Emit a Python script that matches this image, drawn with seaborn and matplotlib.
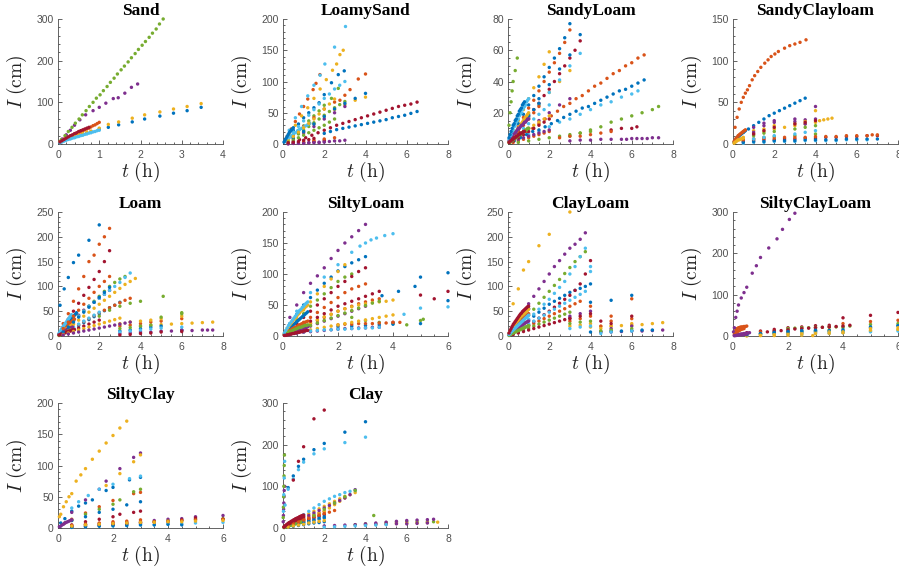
import matplotlib
matplotlib.use("Agg")
import matplotlib.pyplot as plt
import numpy as np
import pandas as pd
import seaborn as sns
from matplotlib.ticker import MultipleLocator, AutoMinorLocator

# ---------------------------------------------------------------------------
# Cumulative infiltration I (cm) against elapsed time t (h), one list of runs
# per soil texture class.  Each run is (times, cumulative depths).
# ---------------------------------------------------------------------------

# shared sampling schedules (h)
Q = [0.25, 0.5, 0.75, 1.0, 1.25, 1.5, 1.75, 2.0, 2.25, 2.5, 2.75, 3.0, 3.25, 3.5, 3.75, 4.0]
H = [0.5, 1.0, 1.5, 2.0, 2.5, 3.0, 3.5, 4.0, 4.5, 5.0, 5.5, 6.0, 6.5, 7.0, 7.5]
F = [0.05, 0.1, 0.15, 0.2, 0.25, 0.3, 0.35, 0.4, 0.45, 0.5,
     0.55, 0.6, 0.65, 0.7, 0.75, 0.8, 0.85, 0.9, 0.95, 1.0]
LATE = [4.0, 4.5, 5.0, 5.5, 6.0, 6.5, 7.0, 7.5]
COLS = [3.0, 3.5, 4.0, 4.5, 5.0, 6.0]

# --- Sand ------------------------------------------------------------------
SAND_T_LONG = [0.05, 0.1, 0.15, 0.2, 0.3, 0.4, 0.5, 0.6, 0.7, 0.8, 1.0,
               1.22, 1.47, 1.8, 2.1, 2.47, 2.8, 3.13, 3.47]
SAND_T_STEEP = [0.08, 0.17, 0.25, 0.34, 0.42, 0.51, 0.59, 0.68, 0.76, 0.85,
                0.93, 1.02, 1.1, 1.19, 1.27, 1.36, 1.44, 1.53, 1.61, 1.7,
                1.78, 1.87, 1.95, 2.04, 2.12, 2.21, 2.29, 2.38, 2.46, 2.55]
SAND_T_MID = [0.1, 0.2, 0.3, 0.4, 0.53, 0.67, 0.85, 1.0, 1.16, 1.34, 1.46, 1.62, 1.78, 1.93]
SAND_RUNS = [
    (SAND_T_LONG, [4, 7, 9, 11, 14, 17, 20, 23, 26, 29, 36, 40, 46, 53, 60, 67, 74, 80, 88]),
    (F, [6, 9, 12, 14, 16, 18, 21, 23, 25, 27, 29, 31, 34, 36, 38, 41, 44, 46, 49, 52]),
    (SAND_T_LONG, [5, 8, 10, 12, 15, 19, 22, 25, 28, 31, 38, 47, 53, 62, 70, 77, 84, 90, 97]),
    (SAND_T_MID, [12, 22, 33, 45, 58, 70, 80, 88, 98, 109, 111, 122, 136, 144]),
    (SAND_T_STEEP, [10, 20, 30, 40, 50, 60, 70, 80, 90, 100, 110, 118, 128, 138, 148,
                    158, 168, 178, 187, 197, 207, 217, 227, 237, 246, 256, 266, 276, 288, 300]),
    (F, [3, 5, 7, 9, 11, 12, 14, 15, 17, 18, 20, 21, 23, 24, 26, 27, 29, 30, 32, 33]),
    (F, [5, 8, 11, 14, 17, 20, 22, 25, 27, 30, 32, 34, 36, 38, 40]),
]

# --- Loamy sand ------------------------------------------------------------
LS_T_RED = [0.5, 0.8, 1.1, 1.4, 1.7, 2.0, 2.3, 2.6, 2.9, 3.2, 3.5, 3.8, 4.1,
            4.4, 4.7, 5.0, 5.3, 5.6, 5.9, 6.2, 6.5]
LS_T_BLUE = [2.0, 2.3, 2.6, 2.9, 3.2, 3.5, 3.8, 4.1, 4.4, 4.7, 5.0, 5.3, 5.6, 5.9, 6.2, 6.5]
LS_T_THICK = [0.1, 0.2, 0.3, 0.4, 0.5, 0.6, 0.7, 0.8, 0.9, 1.0, 1.1, 1.2, 1.3]
LS_RUNS = [
    ([0.25, 0.5, 0.75, 1.0, 1.25, 1.5, 1.75, 2.0, 2.35, 2.68, 2.97], [12, 22, 32, 42, 50, 58, 66, 79, 98, 111, 117]),
    ([0.2, 0.4, 0.6, 0.8, 1.0, 1.2, 1.46, 1.6, 1.79], [12, 24, 36, 48, 60, 72, 87, 97, 111]),
    ([0.3, 0.6, 0.9, 1.2, 1.5, 1.8, 2.1, 2.4, 2.6, 2.76, 2.92], [15, 30, 45, 58, 73, 88, 103, 118, 128, 143, 150]),
    (Q[:12], [1, 1, 2, 2, 2, 3, 3, 4, 4, 5, 5, 6]),
    ([0.25, 0.5, 0.75, 1.0, 1.25, 1.5, 1.75, 2.0, 2.35, 2.68], [8, 15, 22, 29, 37, 45, 53, 62, 73, 89]),
    ([0.3, 0.6, 0.9, 1.2, 1.5, 1.8, 2.03, 2.5, 3.03], [22, 42, 60, 77, 94, 110, 128, 155, 188]),
    (LS_T_RED, [4, 7, 10, 14, 18, 22, 26, 30, 33, 36, 39, 42, 45, 48, 51, 54, 57, 60, 62, 64, 67]),
    (LS_T_BLUE, [17, 20, 23, 25, 27, 29, 31, 33, 35, 37, 39, 42, 44, 46, 49, 52]),
    ([0.5, 1.0, 1.5, 2.0, 2.5, 2.76, 3.0, 3.25, 3.65, 4.0], [15, 28, 42, 56, 67, 70, 78, 87, 104, 112]),
    (H[:8], [10, 20, 32, 44, 55, 63, 70, 75]),
    (H[:6], [8, 18, 28, 40, 50, 60]),
    (Q[:12], [5, 10, 16, 22, 28, 34, 40, 46, 52, 58, 63, 68]),
    (LS_T_THICK, [4, 7, 10, 13, 16, 18, 21, 23, 25, 27, 29, 31, 33]),
    (H[:4], [1, 2, 4, 6]),
    (H[:8], [10, 20, 32, 44, 56, 65, 73, 81]),
    (H[:5], [2, 4, 6, 8, 10]),
    (Q[:10], [6, 12, 19, 26, 33, 40, 48, 56, 64, 72]),
    (Q[:8], [0, 1, 1, 1, 2, 2, 2, 3]),
    (Q[:10], [3, 6, 10, 14, 18, 22, 26, 30, 35, 40]),
    (Q[:12], [10, 19, 28, 37, 46, 55, 64, 73, 80, 88, 94, 100]),
    (Q[:6], [2, 3, 4, 6, 7, 9]),
    (F[:10], [3, 6, 9, 12, 15, 18, 20, 22, 24, 26]),
]

# --- Sandy loam ------------------------------------------------------------
SL_T_LONG = [0.3, 0.6, 0.9, 1.2, 1.5, 1.8, 2.1, 2.4, 2.7, 3.0, 3.3, 3.6, 3.9,
             4.2, 4.5, 4.8, 5.1, 5.4, 5.7, 6.0, 6.3, 6.6]
SL_RUNS = [
    (Q[:12], [7, 13, 19, 25, 31, 37, 43, 49, 55, 61, 68, 77]),
    (SL_T_LONG, [3, 5, 8, 10, 13, 16, 18, 21, 24, 26, 29, 31, 34, 37, 39, 42, 45, 47, 50, 52, 55, 57]),
    (Q[:8], [8, 15, 22, 29, 36, 43, 51, 59]),
    ([3.0, 3.5, 4.0, 4.5, 5.0, 5.5, 5.75, 6.0, 6.25, 6.5, 6.75, 7.0, 7.3],
     [2, 2.5, 2.5, 3, 3, 3, 3, 3.5, 3.5, 3.5, 3.5, 4, 4]),
    ([3.0, 3.5, 4.0, 4.5, 5.0, 5.5, 6.0, 6.5, 7.0, 7.3], [5, 7, 9, 11, 14, 16, 18, 20, 22, 24]),
    ([1.0, 1.5, 2.0, 2.5, 3.0, 3.5, 4.0, 4.5, 5.0, 5.5, 6.0, 6.3], [6, 8, 11, 14, 16, 19, 22, 25, 27, 30, 32, 34]),
    (Q[:14], [5, 9, 14, 18, 22, 26, 31, 35, 40, 45, 50, 55, 60, 66]),
    (SL_T_LONG, [2, 4, 6, 8, 9, 11, 13, 15, 17, 19, 21, 23, 24, 26, 28, 30, 32, 34, 35, 37, 39, 41]),
    (Q[:12], [5, 11, 17, 23, 28, 34, 40, 46, 52, 58, 65, 73]),
    (H[:6], [9, 17, 25, 33, 40, 47]),
    (H[:6], [5, 10, 15, 20, 25, 29]),
    ([0.05, 0.1, 0.15, 0.2, 0.25, 0.35, 0.45], [12, 20, 27, 34, 40, 47, 55]),
    (H[:7], [9, 17, 25, 33, 41, 50, 58]),
    ([5.0, 5.5, 6.0, 6.25], [9, 10, 10, 11]),
    (H[:7], [9, 19, 29, 38, 48, 57, 70]),
    (Q[:8], [1, 2, 3, 4, 5, 6, 7, 8]),
    (Q[:8], [3, 5, 8, 10, 12, 14, 16, 18]),
    (Q[:8], [2, 3, 4, 5, 6, 7, 8, 9]),
    (H[:8], [1, 2, 3, 4, 5, 6, 7, 8]),
    (Q[:8], [4, 7, 10, 13, 16, 19, 22, 25]),
    (Q[:8], [2, 4, 6, 8, 10, 12, 14, 16]),
    (Q[:6], [6, 10, 14, 18, 22, 26]),
    (Q[:6], [4, 8, 12, 16, 20, 24]),
    (F, [1, 2, 3, 4, 5, 6, 7, 8, 9, 10, 11, 12, 13, 14, 15, 16, 17, 18, 19, 20]),
    (F, [2, 3, 4, 5, 6, 7, 7, 8, 9, 10, 10, 11, 12, 12, 13, 14, 14, 15, 16, 16]),
    (F, [1, 1, 2, 2, 3, 3, 4, 4, 5, 5, 6, 6, 7, 7, 8, 8, 9, 9, 10, 10]),
    (F, [3, 5, 6, 8, 9, 11, 12, 14, 15, 16, 18, 19, 20, 22, 23, 24, 25, 27, 28, 29]),
    (F[:16], [1, 2, 2, 3, 3, 4, 4, 5, 5, 6, 6, 7, 7, 7, 8, 8]),
    (F[:16], [4, 6, 8, 10, 12, 13, 15, 16, 18, 19, 21, 22, 23, 25, 26, 27]),
    ([2.5, 3.0, 3.5, 4.0, 4.5, 5.0], [4, 5, 5, 6, 7, 8]),
]

# --- Sandy clay loam -------------------------------------------------------
SCL_T_CURVE = [0.1, 0.2, 0.3, 0.4, 0.5, 0.6, 0.7, 0.8, 0.93, 1.05, 1.2, 1.35,
               1.54, 1.7, 1.85, 2.03, 2.2, 2.5, 2.75, 3.0, 3.25, 3.54]
SCL_RUNS = [
    ([0.1, 0.25, 0.5, 0.75, 1.0, 1.25, 1.5, 1.75, 2.0, 2.25, 2.5, 2.75, 3.0, 3.25, 3.5],
     [4, 8, 14, 18, 22, 26, 30, 34, 37, 40, 43, 46, 49, 52, 55]),
    (SCL_T_CURVE, [20, 32, 42, 50, 56, 61, 65, 70, 77, 82, 87, 92, 97, 101, 105, 108, 111, 115, 118, 120, 122, 125]),
    ([0.5, 1.0, 1.5, 2.0, 2.5, 3.0, 3.5, 4.0, 4.2, 4.4, 4.6, 4.8], [8, 12, 15, 18, 20, 22, 24, 26, 28, 29, 30, 31]),
    ([1.0, 1.5, 2.0, 3.0, 3.5, 4.0], [20, 25, 28, 30, 29, 45]),
    ([0.5, 1.0, 1.5, 2.0, 3.0, 4.0], [4, 6, 8, 9, 10, 12]),
    (H[:13], [1, 2, 2, 3, 3, 3, 4, 4, 4, 4, 5, 5, 5]),
    (H[:14], [3, 4, 5, 5, 6, 6, 7, 7, 8, 8, 9, 9, 10, 10]),
    (H[:14], [2, 3, 3, 4, 4, 4, 5, 5, 5, 5, 6, 6, 6, 6]),
    ([0.5, 1.0, 1.5, 2.0, 2.5, 3.0, 3.5, 4.0, 4.5, 5.0, 5.5, 6.0, 6.5, 6.75, 7.0],
     [5, 6, 7, 7, 8, 8, 8, 9, 9, 9, 10, 10, 10, 11, 11]),
    ([1.0, 1.5, 2.0, 3.0, 3.5, 4.0], [16, 18, 22, 25, 27, 40]),
    ([1.0, 1.5, 2.0, 3.0, 3.5, 4.0], [14, 22, 26, 27, 24, 30]),
    ([1.0, 1.5, 2.0, 3.0, 3.5, 4.0], [10, 13, 15, 18, 20, 22]),
    ([1.0, 1.5, 2.0, 3.0, 3.5, 4.0], [6, 8, 10, 12, 14, 16]),
    ([1.0, 1.5, 2.0, 3.0, 3.5, 4.0], [12, 16, 20, 24, 26, 28]),
    (F[:12], [2, 4, 6, 8, 9, 10, 11, 12, 13, 14, 15, 16]),
    (F[:12], [3, 5, 7, 8, 10, 11, 12, 13, 14, 15, 16, 17]),
    (F[:10], [1, 2, 3, 4, 5, 5, 6, 6, 7, 7]),
]

# --- Loam ------------------------------------------------------------------
LOAM_RUNS = [
    ([0.1, 0.3, 0.5, 0.75, 1.0, 1.5, 2.0], [62, 95, 118, 148, 163, 193, 224]),
    (Q[:10], [25, 45, 70, 95, 120, 150, 163, 185, 200, 217]),
    (Q[:15], [8, 16, 24, 32, 40, 48, 56, 64, 72, 80, 88, 96, 104, 110, 116]),
    (Q[:10], [12, 22, 32, 42, 52, 60, 68, 76, 84, 92]),
    (Q[:13], [10, 20, 30, 40, 50, 60, 70, 80, 90, 100, 108, 115, 120]),
    (Q[:14], [10, 20, 30, 40, 50, 60, 68, 76, 84, 92, 100, 108, 118, 127]),
    (Q[:10], [18, 34, 50, 66, 82, 98, 114, 130, 150, 172]),
    (Q[:12], [5, 10, 15, 21, 27, 33, 39, 45, 51, 57, 62, 68]),
    (Q[:14], [6, 11, 17, 23, 29, 35, 41, 47, 52, 57, 62, 67, 72, 76]),
    (LATE, [20, 22, 23, 24, 25, 26, 27, 28]),
    ([5.5, 6.0, 6.5, 7.0, 7.25, 7.5], [10, 11, 11, 12, 12, 12]),
    ([2.0, 2.5, 3.0, 3.5, 4.0, 5.1, 6.0], [40, 52, 60, 66, 70, 80, 47]),
    (Q[:8], [6, 12, 18, 24, 30, 36, 42, 48]),
    (Q[:8], [4, 8, 12, 16, 20, 24, 28, 32]),
    (COLS, [10, 12, 15, 18, 20, 12]),
    (COLS, [20, 22, 25, 28, 30, 35]),
    (COLS, [25, 28, 30, 32, 35, 40]),
    (COLS, [5, 6, 8, 8, 10, 12]),
    (COLS, [15, 17, 20, 22, 38, 45]),
    (COLS, [8, 10, 12, 14, 16, 18]),
    (COLS, [2, 3, 5, 6, 8, 9]),
    (F[:18], [4, 7, 9, 12, 14, 17, 19, 22, 24, 27, 29, 32, 34, 37, 39, 42, 44, 47]),
    (F[:16], [3, 6, 8, 10, 12, 14, 16, 18, 20, 22, 24, 26, 28, 30, 32, 34]),
    (F[:15], [2, 4, 6, 8, 9, 11, 12, 14, 15, 17, 18, 20, 21, 23, 24]),
    (F[:14], [3, 5, 6, 8, 9, 10, 11, 12, 13, 14, 15, 16, 17, 18]),
    (F[:12], [1, 2, 3, 4, 5, 6, 7, 8, 9, 10, 11, 12]),
    (F[:13], [5, 9, 13, 16, 19, 22, 25, 28, 31, 34, 37, 40, 43]),
    (F[:16], [2, 3, 4, 5, 6, 6, 7, 8, 8, 9, 10, 10, 11, 12, 12, 13]),
    (Q[:10], [8, 18, 28, 38, 48, 58, 68, 78, 88, 98]),
    (Q[:10], [15, 28, 40, 52, 64, 76, 88, 100, 110, 120]),
    (Q[:12], [3, 6, 9, 12, 15, 18, 21, 24, 27, 30, 33, 36]),
    (Q[:14], [2, 4, 6, 8, 10, 12, 14, 16, 18, 20, 22, 24, 26, 28]),
]

# --- Silty loam ------------------------------------------------------------
SIL_RUNS = [
    (Q[:12], [20, 35, 50, 62, 74, 85, 95, 105, 112, 118, 123, 128]),
    (Q[:12], [8, 15, 22, 30, 38, 46, 54, 62, 70, 76, 80, 84]),
    (Q[:9], [15, 28, 42, 55, 68, 80, 92, 104, 115]),
    (Q[:12], [30, 50, 70, 85, 97, 110, 125, 138, 150, 160, 170, 180]),
    (Q[:10], [12, 24, 36, 48, 58, 68, 78, 88, 95, 100]),
    ([0.5, 1.0, 1.5, 2.0, 2.5, 2.8, 3.0, 3.2, 3.4, 3.7, 4.0], [40, 70, 95, 115, 135, 145, 150, 155, 158, 162, 165]),
    (Q[:12], [10, 20, 30, 40, 50, 60, 70, 80, 88, 96, 104, 110]),
    ([3.6, 4.2, 4.8, 5.0, 6.0], [65, 72, 80, 95, 102]),
    (Q[:14], [5, 10, 15, 20, 25, 30, 35, 40, 44, 48, 52, 55, 58, 60]),
    (Q[:16], [6, 11, 16, 21, 26, 31, 35, 40, 44, 47, 50, 52, 54, 55, 56, 58]),
    (Q[:12], [4, 8, 12, 16, 20, 24, 28, 32, 36, 40, 44, 48]),
    ([2.5, 3.0, 3.5, 4.0, 4.5, 5.0, 5.1], [30, 25, 22, 20, 18, 25, 27]),
    ([4.4, 5.0, 6.0], [35, 45, 47]),
    ([4.0, 5.0, 5.5, 6.0], [22, 66, 60, 72]),
    ([2.0, 2.5, 3.0, 3.5, 4.0, 5.0, 6.0], [15, 16, 17, 18, 19, 20, 57]),
    ([2.0, 2.25, 2.5, 2.75, 3.0, 3.25, 3.5, 3.75, 4.0, 4.25], [18, 19, 19, 20, 20, 20, 21, 21, 22, 22]),
    (Q[:16], [3, 6, 8, 10, 12, 14, 16, 18, 20, 22, 24, 26, 28, 30, 32, 34]),
    (Q[:14], [2, 4, 6, 7, 8, 9, 10, 11, 12, 12, 13, 13, 14, 14]),
    (Q[:14], [5, 9, 13, 17, 21, 25, 29, 33, 37, 41, 45, 49, 53, 56]),
    (Q[:14], [3, 5, 7, 8, 9, 10, 10, 11, 11, 12, 12, 13, 13, 14]),
    (Q[:14], [6, 12, 18, 24, 30, 36, 42, 48, 52, 56, 60, 64, 68, 72]),
    (F[:18], [3, 6, 9, 11, 13, 15, 17, 19, 21, 23, 25, 27, 29, 31, 33, 35, 37, 39]),
    (F[:18], [2, 4, 6, 7, 9, 10, 12, 13, 14, 15, 17, 18, 19, 20, 21, 22, 23, 24]),
    (F[:18], [4, 8, 12, 15, 18, 21, 24, 27, 30, 32, 35, 37, 40, 42, 44, 46, 48, 50]),
    (F[:18], [1, 2, 3, 4, 5, 6, 7, 8, 8, 9, 10, 11, 11, 12, 13, 13, 14, 15]),
    (F[:18], [2, 3, 5, 6, 7, 8, 9, 10, 11, 12, 13, 14, 14, 15, 16, 17, 17, 18]),
    (F[:18], [5, 9, 13, 17, 20, 23, 26, 29, 32, 35, 38, 41, 43, 46, 48, 51, 53, 55]),
    (F[:18], [1, 1, 2, 2, 3, 3, 4, 4, 5, 5, 6, 6, 7, 7, 8, 8, 9, 9]),
]

# --- Clay loam -------------------------------------------------------------
CL_RUNS = [
    (Q[:16], [8, 16, 24, 32, 40, 48, 56, 64, 70, 76, 82, 88, 92, 96, 100, 105]),
    (Q[:14], [5, 10, 15, 20, 25, 30, 35, 40, 45, 50, 55, 60, 65, 70]),
    ([0.25, 0.5, 0.75, 1.0, 1.5, 2.0, 3.0], [65, 95, 133, 150, 182, 205, 250]),
    (Q[:15], [20, 35, 50, 65, 80, 95, 110, 125, 140, 152, 165, 177, 185, 195, 208]),
    (Q[:15], [10, 20, 30, 42, 54, 66, 78, 90, 102, 114, 126, 138, 150, 160, 170]),
    (Q[:16], [8, 16, 24, 34, 44, 54, 64, 74, 86, 98, 110, 125, 140, 160, 177, 140]),
    (Q[:16], [5, 10, 15, 22, 29, 36, 43, 50, 58, 66, 74, 82, 92, 105, 125, 152]),
    ([4.0, 5.0, 6.0], [68, 72, 82]),
    ([4.0, 5.0, 6.0], [60, 40, 75]),
    (LATE, [18, 19, 20, 21, 22, 23, 25, 27]),
    ([5.0, 5.5, 6.0, 6.5, 7.0, 7.5], [8, 9, 10, 10, 11, 12]),
    (Q[:12], [4, 8, 12, 16, 20, 24, 28, 32, 36, 40, 44, 48]),
    (Q[:16], [6, 12, 18, 24, 30, 36, 42, 48, 54, 60, 66, 72, 78, 84, 90, 130]),
    (Q[:12], [3, 6, 9, 12, 15, 18, 21, 24, 27, 30, 33, 36]),
    ([4.0, 4.5, 5.0, 5.5, 6.0, 6.5, 7.0], [8, 9, 10, 10, 11, 12, 12]),
    (COLS, [30, 35, 40, 20, 30, 35]),
    (COLS, [20, 22, 25, 15, 20, 25]),
    (COLS, [40, 45, 50, 8, 15, 20]),
    (COLS, [25, 28, 30, 10, 12, 15]),
    (COLS, [15, 18, 20, 5, 8, 10]),
    (COLS, [35, 40, 45, 30, 25, 40]),
    (F, [4, 8, 11, 14, 17, 20, 23, 26, 29, 31, 34, 36, 39, 41, 44, 46, 48, 51, 53, 55]),
    (F, [3, 6, 9, 12, 14, 16, 19, 21, 23, 25, 27, 29, 31, 33, 35, 37, 39, 41, 43, 45]),
    (F, [5, 9, 13, 16, 19, 22, 25, 28, 30, 33, 35, 38, 40, 42, 44, 46, 48, 50, 52, 54]),
    (F, [2, 4, 6, 8, 10, 11, 13, 14, 16, 17, 19, 20, 21, 23, 24, 25, 27, 28, 29, 30]),
    (F, [1, 3, 4, 5, 6, 7, 8, 9, 10, 11, 12, 13, 14, 15, 16, 17, 18, 19, 20, 21]),
    (F, [3, 5, 8, 10, 12, 14, 16, 18, 20, 22, 24, 26, 28, 30, 32, 34, 36, 38, 40, 42]),
    (F, [6, 11, 15, 19, 23, 26, 29, 32, 35, 38, 41, 44, 46, 49, 51, 53, 55, 57, 59, 60]),
]

# --- Silty clay loam -------------------------------------------------------
SICL_T_FAST = [0.02, 0.05, 0.1, 0.15, 0.2, 0.3, 0.4, 0.5, 0.7, 0.85, 1.0, 1.3, 1.6, 1.8, 2.05, 2.25]
SICL_T_COL = [1.0, 1.5, 2.0, 2.5, 3.0, 3.5, 4.0, 5.0, 6.0]
SICL_RUNS = [
    ([0.5, 1.0, 1.5, 2.0, 2.5, 3.0, 3.5, 4.0, 5.0, 6.0], [2, 4, 5, 7, 8, 10, 11, 12, 20, 25]),
    (F[:10], [8, 14, 18, 20, 21, 22, 22, 23, 23, 24]),
    ([0.5, 1.0, 1.5, 2.0, 2.5, 2.9, 3.5, 4.0, 5.0, 6.0], [0, 1, 1, 2, 2, 1, 6, 8, 12, 15]),
    (SICL_T_FAST, [10, 20, 45, 60, 75, 92, 105, 118, 152, 170, 190, 213, 235, 258, 282, 297]),
    (SICL_T_COL, [6, 8, 10, 12, 14, 15, 20, 28, 30]),
    ([0.5, 1.0, 1.5, 2.0, 2.5, 3.0, 3.5, 4.0], [4, 6, 8, 9, 10, 11, 12, 12]),
    ([0.5, 1.0, 1.5, 2.0, 2.5, 3.0, 3.5, 4.0, 5.0, 6.0], [8, 12, 16, 20, 22, 25, 26, 44, 50, 57]),
    (SICL_T_COL, [5, 7, 9, 11, 12, 13, 15, 22, 25]),
    (SICL_T_COL, [10, 12, 15, 18, 20, 22, 30, 35, 38]),
    (SICL_T_COL, [3, 5, 7, 8, 9, 10, 10, 18, 20]),
    (F[:12], [1, 2, 3, 4, 4, 5, 5, 6, 6, 7, 7, 8]),
    ([2.0, 2.25, 2.5, 2.75, 3.0, 3.25, 3.5, 3.75, 4.0, 4.25], [18, 19, 20, 20, 21, 21, 22, 22, 23, 24]),
    ([2.0, 2.5, 3.0, 3.5, 4.0, 5.0, 6.0], [4, 5, 6, 7, 8, 10, 12]),
    ([1.25, 1.5, 1.75, 2.0, 2.25, 2.5, 2.75, 3.0, 3.25, 3.5, 3.75, 4.0, 4.25],
     [10, 12, 13, 15, 17, 18, 19, 20, 21, 22, 23, 24, 26]),
    ([0.5, 1.0, 1.5, 2.0, 2.5, 3.0], [3, 6, 9, 11, 13, 14]),
    (F[:8], [3, 6, 9, 12, 14, 16, 17, 18]),
    (SICL_T_COL, [2, 3, 4, 5, 6, 7, 8, 14, 16]),
    (F[:10], [1, 1, 2, 2, 3, 3, 3, 4, 4, 5]),
]

# --- Silty clay ------------------------------------------------------------
SIC_T_FAST = [0.05, 0.1, 0.2, 0.3, 0.4, 0.5, 0.66, 0.83, 1.0, 1.25, 1.5, 1.75, 2.0, 2.25, 2.5]
SIC_T_FLAT = [0.5, 1.0, 1.5, 2.0, 2.5, 3.0, 3.5, 4.0, 4.5, 5.0, 6.0]
SIC_RUNS = [
    ([0.1, 0.25, 0.5, 0.75, 1.0, 1.25, 1.75, 2.0, 2.6, 3.0], [8, 15, 27, 35, 40, 45, 60, 65, 77, 81]),
    ([0.25, 0.5, 1.0, 1.5, 2.0, 2.75, 3.0], [8, 14, 24, 34, 44, 55, 57]),
    (SIC_T_FAST, [18, 22, 34, 42, 50, 55, 75, 85, 95, 110, 123, 136, 148, 160, 171]),
    ([0.5, 1.0, 1.5, 1.75, 2.25, 2.75, 3.0], [25, 45, 62, 75, 95, 113, 120]),
    ([0.5, 1.0, 1.5, 2.0, 2.25, 2.75, 3.0], [12, 22, 30, 38, 45, 58, 62]),
    ([0.5, 0.75, 1.1, 1.5, 2.0, 2.6, 3.0], [32, 42, 52, 62, 70, 79, 83]),
    ([0.5, 1.0, 1.5, 2.0, 2.25, 2.75, 3.0], [5, 10, 14, 18, 22, 25, 27]),
    ([0.5, 1.0, 1.5, 2.0, 2.5, 3.0], [12, 18, 25, 30, 37, 42]),
    ([0.5, 1.0, 1.5, 2.0, 2.5, 3.0], [3, 6, 8, 10, 11, 13]),
    ([1.75, 2.25, 2.75, 3.0], [68, 87, 106, 117]),
    (SIC_T_FLAT, [3, 5, 6, 7, 8, 9, 12, 14, 15, 18, 20]),
    (SIC_T_FLAT, [2, 4, 5, 6, 7, 8, 10, 11, 12, 14, 15]),
    (SIC_T_FLAT, [1, 2, 3, 3, 4, 5, 5, 6, 7, 8, 9]),
    (SIC_T_FLAT, [2, 3, 4, 5, 6, 8, 9, 10, 13, 16, 14]),
    (SIC_T_FLAT[:9], [1, 2, 3, 4, 4, 5, 5, 6, 5]),
    (SIC_T_FLAT, [4, 6, 7, 8, 9, 10, 10, 11, 12, 13, 14]),
    (SIC_T_FLAT, [3, 5, 6, 7, 8, 9, 9, 10, 10, 11, 12]),
    (F[:10], [2, 3, 5, 6, 8, 9, 10, 11, 12, 13]),
]

# --- Clay ------------------------------------------------------------------
CLAY_RUNS = [
    ([0.25, 0.5, 0.75, 1.0, 1.5, 2.0, 3.0, 4.0], [97, 125, 148, 165, 188, 203, 230, 255]),
    (Q[:8], [6, 11, 16, 21, 26, 31, 36, 40]),
    (Q[:14], [5, 10, 15, 20, 25, 30, 35, 40, 48, 56, 64, 72, 80, 85]),
    ([0.01, 0.02, 0.03, 0.04, 0.05, 0.06, 0.08], [15, 30, 45, 60, 75, 90, 100]),
    ([0.01, 0.02, 0.03, 0.04, 0.05, 0.06, 0.07], [25, 50, 75, 100, 125, 150, 175]),
    ([0.25, 0.5, 0.75, 1.0, 1.5, 2.0, 3.0, 4.0], [93, 118, 140, 158, 178, 190, 205, 218]),
    ([0.5, 0.75, 1.0, 1.5, 2.0], [115, 160, 195, 262, 283]),
    (Q[:8], [3, 6, 9, 12, 15, 18, 21, 24]),
    (Q[:10], [5, 10, 14, 18, 22, 26, 30, 34, 38, 42]),
    (Q[:12], [8, 15, 22, 28, 34, 40, 46, 52, 58, 64, 70, 76]),
    (Q[:14], [6, 12, 18, 24, 30, 36, 42, 48, 54, 60, 66, 72, 80, 92]),
    ([3.5, 4.0, 4.4, 5.0, 5.5, 6.0, 6.5, 7.0, 7.3], [8, 10, 30, 13, 14, 15, 15, 15, 15]),
    (Q[:14], [8, 16, 24, 32, 40, 48, 56, 64, 70, 76, 80, 85, 88, 90]),
    (Q[:8], [4, 8, 12, 16, 20, 24, 28, 32]),
    (Q[:8], [2, 4, 6, 8, 10, 12, 13, 15]),
    (F, [2, 3, 4, 5, 6, 7, 8, 9, 10, 11, 12, 13, 14, 15, 16, 17, 18, 19, 20, 21]),
    (LATE, [8, 9, 10, 11, 12, 12, 13, 14]),
    ([4.0, 4.5, 5.0, 5.5, 6.0, 6.5, 7.0, 7.3], [10, 12, 14, 16, 18, 19, 20, 21]),
    (F, [1, 2, 3, 4, 5, 6, 6, 7, 8, 9, 9, 10, 11, 11, 12, 13, 13, 14, 15, 15]),
    ([0.02, 0.04, 0.06, 0.08, 0.1], [40, 80, 120, 160, 55]),
    (F, [2, 4, 6, 7, 9, 10, 12, 13, 14, 16, 17, 18, 19, 21, 22, 23, 24, 25, 26, 27]),
    (Q[:8], [3, 7, 10, 13, 17, 20, 24, 27]),
    (Q[:8], [5, 10, 14, 19, 23, 27, 31, 35]),
    (Q[:8], [2, 5, 7, 9, 12, 14, 16, 18]),
    ([2.0, 2.5, 3.0, 3.5, 4.0, 4.5, 5.0, 5.5, 6.0, 6.5, 7.0], [5, 6, 7, 8, 8, 9, 9, 10, 10, 11, 12]),
    ([1.5, 2.0, 2.5, 3.0, 3.5], [30, 45, 60, 75, 90]),
    ([2.0, 2.5, 3.0, 3.5, 4.0, 4.5, 5.0], [2, 3, 4, 5, 6, 7, 8]),
    (F, [3, 5, 7, 9, 11, 13, 14, 16, 17, 19, 20, 22, 23, 24, 25, 27, 28, 29, 30, 31]),
]

# panel title, runs, x max, x step, y max, y step
PANELS = [
    ("Sand", SAND_RUNS, 4, 1, 300, 100),
    ("LoamySand", LS_RUNS, 8, 2, 200, 50),
    ("SandyLoam", SL_RUNS, 8, 2, 80, 20),
    ("SandyClayloam", SCL_RUNS, 8, 2, 150, 50),
    ("Loam", LOAM_RUNS, 8, 2, 250, 50),
    ("SiltyLoam", SIL_RUNS, 6, 2, 200, 50),
    ("ClayLoam", CL_RUNS, 8, 2, 250, 50),
    ("SiltyClayLoam", SICL_RUNS, 6, 2, 300, 100),
    ("SiltyClay", SIC_RUNS, 6, 2, 200, 50),
    ("Clay", CLAY_RUNS, 8, 2, 300, 100),
]

# MATLAB default colour order
MATLAB = ["#0072BD", "#D95319", "#EDB120", "#7E2F8E", "#77AC30", "#4DBEEE", "#A2142F"]


def runs_frame(runs):
    rows = []
    for k, (times, depths) in enumerate(runs):
        for t, v in zip(times, depths):
            rows.append((f"run{k:02d}", t, v))
    return pd.DataFrame(rows, columns=["run", "t", "I"])


sns.set_theme(style="white")
plt.rcParams["mathtext.fontset"] = "cm"
plt.rcParams["font.family"] = ["Liberation Sans", "DejaVu Sans"]

W, H_PX = 899, 575
fig = plt.figure(figsize=(W / 100, H_PX / 100), dpi=100)
fig.patch.set_facecolor("white")

col_left = [58, 283, 508, 733]
row_top = [19, 212, 403]
row_h = [125, 124, 125]
ax_w = 165

axis_grey = "#4a4a4a"
tick_grey = "#505050"

for idx, (title, runs, xmax, xstep, ymax, ystep) in enumerate(PANELS):
    r, c = divmod(idx, 4)
    left = col_left[c] / W
    bottom = 1 - (row_top[r] + row_h[r]) / H_PX
    ax = fig.add_axes([left, bottom, ax_w / W, row_h[r] / H_PX])

    df = runs_frame(runs)
    names = list(dict.fromkeys(df["run"]))
    pal = {n: MATLAB[i % 7] for i, n in enumerate(names)}
    sns.scatterplot(data=df, x="t", y="I", hue="run", hue_order=names, palette=pal,
                    s=6, linewidth=0, legend=False, ax=ax, clip_on=False, zorder=3)

    ax.set_xlim(0, xmax)
    ax.set_ylim(0, ymax)
    ax.xaxis.set_major_locator(MultipleLocator(xstep))
    ax.yaxis.set_major_locator(MultipleLocator(ystep))
    ax.xaxis.set_minor_locator(AutoMinorLocator())
    ax.yaxis.set_minor_locator(AutoMinorLocator())
    ax.tick_params(which="both", direction="in", bottom=True, left=True, top=False, right=False,
                   colors=axis_grey, labelcolor=tick_grey, labelsize=7.5, width=0.6)
    ax.tick_params(which="major", length=3.0)
    ax.tick_params(which="minor", length=1.6)
    ax.tick_params(axis="x", pad=4)
    ax.tick_params(axis="y", pad=3)
    for side in ("top", "right"):
        ax.spines[side].set_visible(False)
    for side in ("left", "bottom"):
        ax.spines[side].set_color(axis_grey)
        ax.spines[side].set_linewidth(0.6)
    ax.set_facecolor("white")

    ax.set_title(title, family="Liberation Serif", fontweight="bold", fontsize=12.5,
                 color="black", pad=3)
    ax.set_xlabel(r"$t\ (\mathrm{h})$", fontsize=14, color="#222222")
    ax.set_ylabel(r"$I\ (\mathrm{cm})$", fontsize=14, color="#222222")
    ax.xaxis.set_label_coords(0.5, -0.13)
    ax.yaxis.set_label_coords(-0.176, 0.5)

fig.savefig("out.png", dpi=100, facecolor="white")
